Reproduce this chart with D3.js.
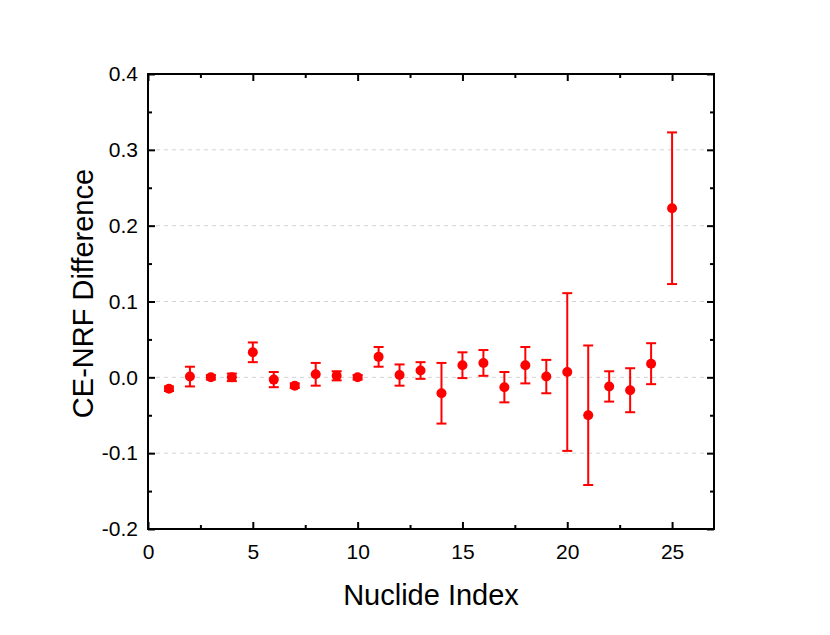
<!DOCTYPE html>
<html><head><meta charset="utf-8">
<script src="https://cdn.jsdelivr.net/npm/d3@7"></script>
<style>body{margin:0;background:#fff;} text{font-family:"Liberation Sans",Arial,sans-serif;}</style>
</head><body><svg id="c" width="830" height="635"></svg>
<script>
const nuclideIndex = [1,2,3,4,5,6,7,8,9,10,11,12,13,14,15,16,17,18,19,20,21,22,23,24,25];
const difference = [-0.015,0.001,0.000,0.000,0.033,-0.003,-0.011,0.004,0.002,0.000,0.027,0.003,0.009,-0.021,0.016,0.019,-0.013,0.016,0.001,0.007,-0.050,-0.012,-0.017,0.018,0.223];
const errorBar = [0.003,0.013,0.003,0.005,0.013,0.010,0.003,0.015,0.006,0.003,0.013,0.014,0.011,0.040,0.017,0.017,0.020,0.024,0.022,0.104,0.092,0.020,0.029,0.027,0.100];
const xTicks = [0,5,10,15,20,25];
const yTicks = [-0.2,-0.1,0.0,0.1,0.2,0.3,0.4];
const gridTicks = [-0.1,0.0,0.1,0.2,0.3];
const xMinor = [2.5,7.5,12.5,17.5,22.5];
const yMinor = [-0.15,-0.05,0.05,0.15,0.25,0.35];

const svg = d3.select("#c");
const L=148, R=714, T=74, B=529;
const x = d3.scaleLinear().domain([0,27]).range([L,R]);
const y = d3.scaleLinear().domain([-0.2,0.4]).range([B,T]);

// grid
svg.append("g").selectAll("line").data(gridTicks).join("line")
  .attr("x1",L).attr("x2",R).attr("y1",d=>y(d)).attr("y2",d=>y(d))
  .attr("stroke","#d3d3d3").attr("stroke-width",1).attr("stroke-dasharray","4,4");

const tickFont = "21px";
const fmtY = d => d3.format(".1f")(d).replace("\u2212","-");
// axes
const axB = d3.axisBottom(x).tickValues(xTicks).tickSizeInner(-7).tickSizeOuter(0).tickPadding(15).tickFormat(d3.format("d"));
const axL = d3.axisLeft(y).tickValues(yTicks).tickSizeInner(-7).tickSizeOuter(0).tickPadding(10).tickFormat(fmtY);
svg.append("g").attr("transform",`translate(0,${B})`).call(axB);
svg.append("g").attr("transform",`translate(${L},0)`).call(axL);
svg.append("g").attr("transform",`translate(0,${T})`).call(d3.axisTop(x).tickValues(xTicks).tickSizeInner(-7).tickSizeOuter(0).tickFormat(""));
svg.append("g").attr("transform",`translate(${R},0)`).call(d3.axisRight(y).tickValues(yTicks).tickSizeInner(-7).tickSizeOuter(0).tickFormat(""));
// minor ticks
svg.append("g").attr("transform",`translate(0,${B})`).call(d3.axisBottom(x).tickValues(xMinor).tickSizeInner(-4).tickSizeOuter(0).tickFormat(""));
svg.append("g").attr("transform",`translate(0,${T})`).call(d3.axisTop(x).tickValues(xMinor).tickSizeInner(-4).tickSizeOuter(0).tickFormat(""));
svg.append("g").attr("transform",`translate(${L},0)`).call(d3.axisLeft(y).tickValues(yMinor).tickSizeInner(-4).tickSizeOuter(0).tickFormat(""));
svg.append("g").attr("transform",`translate(${R},0)`).call(d3.axisRight(y).tickValues(yMinor).tickSizeInner(-4).tickSizeOuter(0).tickFormat(""));
svg.selectAll(".domain").remove();
svg.selectAll(".tick line").attr("stroke","#000").attr("stroke-width",2);
svg.selectAll(".tick text").attr("font-size",tickFont).attr("fill","#000").attr("font-family","Liberation Sans, Arial, sans-serif");

// frame
svg.append("rect").attr("x",L).attr("y",T).attr("width",R-L).attr("height",B-T)
  .attr("fill","none").attr("stroke","#000").attr("stroke-width",2);

// error bars and points
const data = nuclideIndex.map((n,i)=>({n,v:difference[i],e:errorBar[i]}));
const g = svg.append("g");
const cap = 5;
g.selectAll(".eb").data(data).join("line").attr("class","eb")
  .attr("x1",d=>x(d.n)).attr("x2",d=>x(d.n)).attr("y1",d=>y(d.v+d.e)).attr("y2",d=>y(d.v-d.e))
  .attr("stroke","#ff0000").attr("stroke-width",2);
g.selectAll(".ct").data(data).join("line").attr("class","ct")
  .attr("x1",d=>x(d.n)-cap).attr("x2",d=>x(d.n)+cap).attr("y1",d=>y(d.v+d.e)).attr("y2",d=>y(d.v+d.e))
  .attr("stroke","#ff0000").attr("stroke-width",2);
g.selectAll(".cb").data(data).join("line").attr("class","cb")
  .attr("x1",d=>x(d.n)-cap).attr("x2",d=>x(d.n)+cap).attr("y1",d=>y(d.v-d.e)).attr("y2",d=>y(d.v-d.e))
  .attr("stroke","#ff0000").attr("stroke-width",2);
g.selectAll("circle").data(data).join("circle")
  .attr("cx",d=>x(d.n)).attr("cy",d=>y(d.v)).attr("r",5).attr("fill","#ff0000");

// titles
svg.append("text").attr("x",(L+R)/2).attr("y",605).attr("text-anchor","middle")
  .attr("font-size","29px").attr("fill","#000").text("Nuclide Index");
svg.append("text").attr("transform",`translate(93,${(T+B)/2 - 8}) rotate(-90)`).attr("text-anchor","middle")
  .attr("font-size","29px").attr("fill","#000").text("CE-NRF Difference");
</script></body></html>
